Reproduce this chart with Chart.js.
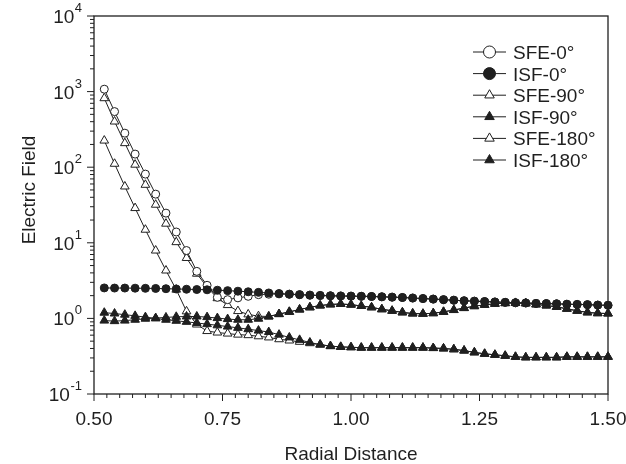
<!DOCTYPE html>
<html>
<head>
<meta charset="utf-8">
<script src="https://cdn.jsdelivr.net/npm/chart.js@4.4.1/dist/chart.umd.min.js"></script>
<style>
    html, body { margin: 0; padding: 0; background: #fff; }
    canvas { display: block; }
</style>
</head>
<body>
<canvas id="chart" width="626" height="464"></canvas>
<script>
// Data (x = radial distance, y = electric field, log scale)
const radialDistance = [
    0.52, 0.54, 0.56, 0.58, 0.60, 0.62, 0.64, 0.66, 0.68, 0.70,
    0.72, 0.74, 0.76, 0.78, 0.80, 0.82, 0.84, 0.86, 0.88, 0.90,
    0.92, 0.94, 0.96, 0.98, 1.00, 1.02, 1.04, 1.06, 1.08, 1.10,
    1.12, 1.14, 1.16, 1.18, 1.20, 1.22, 1.24, 1.26, 1.28, 1.30,
    1.32, 1.34, 1.36, 1.38, 1.40, 1.42, 1.44, 1.46, 1.48, 1.50
];

const sfe0 = [
    1076, 544, 282, 149, 81, 44, 24.7, 13.9, 7.9, 4.19,
    2.74, 1.90, 1.77, 1.87, 1.96, 2.06, 2.09, 2.11, 2.09, 2.06,
    2.03, 2.01, 1.99, 1.98, 1.97, 1.96, 1.95, 1.93, 1.91, 1.89,
    1.86, 1.83, 1.80, 1.77, 1.74, 1.71, 1.69, 1.67, 1.65, 1.63,
    1.61, 1.60, 1.58, 1.57, 1.56, 1.54, 1.53, 1.52, 1.50, 1.49
];

const isf0 = [
    2.53, 2.52, 2.52, 2.51, 2.50, 2.49, 2.47, 2.45, 2.43, 2.41,
    2.39, 2.36, 2.33, 2.29, 2.25, 2.21, 2.17, 2.13, 2.09, 2.06,
    2.03, 2.01, 1.99, 1.98, 1.97, 1.96, 1.95, 1.93, 1.91, 1.89,
    1.86, 1.83, 1.80, 1.77, 1.74, 1.71, 1.69, 1.67, 1.65, 1.63,
    1.61, 1.60, 1.58, 1.57, 1.56, 1.54, 1.53, 1.52, 1.50, 1.49
];

const sfe90 = [
    818, 402, 208, 108, 58.5, 31.9, 17.9, 10.2, 6.3, 3.9,
    2.6, 1.85, 1.50, 1.25, 1.13, 1.07, 1.06, 1.14, 1.22, 1.31,
    1.40, 1.48, 1.53, 1.55, 1.52, 1.46, 1.40, 1.32, 1.26, 1.20,
    1.16, 1.15, 1.17, 1.22, 1.29, 1.37, 1.45, 1.51, 1.56, 1.59,
    1.60, 1.58, 1.53, 1.48, 1.42, 1.34, 1.26, 1.20, 1.17, 1.16
];

const isf90 = [
    0.935, 0.92, 0.935, 0.96, 0.99, 1.01, 1.03, 1.05, 1.06, 1.06,
    1.04, 1.01, 0.98, 0.96, 0.96, 0.99, 1.06, 1.14, 1.22, 1.31,
    1.40, 1.48, 1.53, 1.55, 1.52, 1.46, 1.40, 1.32, 1.26, 1.20,
    1.16, 1.15, 1.17, 1.22, 1.29, 1.37, 1.45, 1.51, 1.56, 1.59,
    1.60, 1.58, 1.53, 1.48, 1.42, 1.34, 1.26, 1.20, 1.17, 1.16
];

const sfe180 = [
    225, 111, 55.6, 28.8, 14.9, 7.9, 4.3, 2.4, 1.24, 0.83,
    0.68, 0.65, 0.63, 0.61, 0.60, 0.58, 0.56, 0.53, 0.51, 0.49,
    0.47, 0.45, 0.43, 0.42, 0.415, 0.41, 0.41, 0.41, 0.41, 0.41,
    0.41, 0.41, 0.405, 0.40, 0.39, 0.375, 0.355, 0.34, 0.33, 0.32,
    0.31, 0.305, 0.305, 0.305, 0.305, 0.31, 0.31, 0.31, 0.31, 0.31
];

const isf180 = [
    1.19, 1.16, 1.12, 1.08, 1.04, 1.00, 0.96, 0.93, 0.90, 0.87,
    0.84, 0.81, 0.78, 0.75, 0.72, 0.69, 0.66, 0.61, 0.56, 0.52,
    0.48, 0.45, 0.43, 0.42, 0.415, 0.41, 0.41, 0.41, 0.41, 0.41,
    0.41, 0.41, 0.405, 0.40, 0.39, 0.375, 0.355, 0.34, 0.33, 0.32,
    0.31, 0.305, 0.305, 0.305, 0.305, 0.31, 0.31, 0.31, 0.31, 0.31
];

const seriesNames = ['SFE-0°', 'ISF-0°', 'SFE-90°', 'ISF-90°', 'SFE-180°', 'ISF-180°'];
const seriesValues = [sfe0, isf0, sfe90, isf90, sfe180, isf180];

const xTickValues = [0.50, 0.75, 1.00, 1.25, 1.50];
const xTickLabels = ['0.50', '0.75', '1.00', '1.25', '1.50'];
const yTickExponents = [-1, 0, 1, 2, 3, 4];

const xTitle = 'Radial Distance';
const yTitle = 'Electric Field';

// Styles
const INK = '#1f1f1f';
const FONT = '"Liberation Sans", Arial, Helvetica, sans-serif';
const FONT_SIZE = 19;

const markerStyles =
[
    { pointStyle: 'circle',   radius: 4, fill: '#ffffff' },
    { pointStyle: 'circle',   radius: 4, fill: INK },
    { pointStyle: 'triangle', radius: 5, fill: '#ffffff' },
    { pointStyle: 'triangle', radius: 5, fill: INK },
    { pointStyle: 'triangle', radius: 5, fill: '#ffffff' },
    { pointStyle: 'triangle', radius: 5, fill: INK }
];

function drawMarker(ctx, style, r, x, y, fill)
{
    ctx.beginPath();
    if (style === 'circle')
    {
        ctx.arc(x, y, r, 0, Math.PI * 2);
    }
    else
    {
        for (let k = 0; k < 3; k++)
        {
            const rad = k * 2 * Math.PI / 3;
            const px = x + Math.sin(rad) * r;
            const py = y - Math.cos(rad) * r;
            if (k === 0) ctx.moveTo(px, py); else ctx.lineTo(px, py);
        }
        ctx.closePath();
    }
    ctx.fillStyle = fill;
    ctx.fill();
    ctx.stroke();
}

// Frame, ticks, tick labels, titles and legend
const figurePlugin =
{
    id: 'figure',

    beforeDatasetsDraw(chart)
    {
        const { ctx, chartArea: a } = chart;
        ctx.save();
        ctx.strokeStyle = INK;
        ctx.lineWidth = 1.3;
        ctx.strokeRect(a.left, a.top, a.right - a.left, a.bottom - a.top);
        ctx.restore();
    },

    afterDraw(chart)
    {
        const { ctx, chartArea: a, scales } = chart;
        const xs = scales.x, ys = scales.y;

        ctx.save();
        ctx.strokeStyle = INK;
        ctx.lineWidth = 1;
        ctx.beginPath();

        // y ticks (outside, decades long)
        for (let e = yTickExponents[0]; e < yTickExponents[yTickExponents.length - 1]; e++)
        {
            for (let m = 1; m < 10; m++)
            {
                const py = ys.getPixelForValue(m * Math.pow(10, e));
                const len = m === 1 ? 7 : 4;
                ctx.moveTo(a.left, py);
                ctx.lineTo(a.left - len, py);
            }
        }
        ctx.moveTo(a.left, a.top);
        ctx.lineTo(a.left - 7, a.top);

        // x ticks: minor every 0.025
        for (let i = 0; i <= 40; i++)
        {
            const px = xs.getPixelForValue(0.5 + i * 0.025);
            const len = i % 10 === 0 ? 7 : 4;
            ctx.moveTo(px, a.bottom);
            ctx.lineTo(px, a.bottom + len);
        }
        ctx.stroke();

        ctx.fillStyle = INK;

        // x tick labels
        ctx.font = FONT_SIZE + 'px ' + FONT;
        ctx.textAlign = 'center';
        ctx.textBaseline = 'alphabetic';
        xTickValues.forEach((v, i) =>
        {
            ctx.fillText(xTickLabels[i], xs.getPixelForValue(v), a.bottom + 31);
        });

        // y tick labels: 10 with superscript exponent
        const labelRight = a.left - 12;
        yTickExponents.forEach(e =>
        {
            const py = ys.getPixelForValue(Math.pow(10, e));
            const sup = e < 0 ? '-' + Math.abs(e) : String(e);
            ctx.font = '13px ' + FONT;
            const supW = ctx.measureText(sup).width;
            ctx.textAlign = 'left';
            ctx.fillText(sup, labelRight - supW, py - 4);
            ctx.font = FONT_SIZE + 'px ' + FONT;
            ctx.textAlign = 'right';
            ctx.fillText('10', labelRight - supW - 0.5, py + 7);
        });

        // axis titles
        ctx.font = FONT_SIZE + 'px ' + FONT;
        ctx.textAlign = 'center';
        ctx.fillText(xTitle, (a.left + a.right) / 2, 460);

        ctx.save();
        ctx.translate(35, 190);
        ctx.rotate(-Math.PI / 2);
        ctx.fillText(yTitle, 0, 0);
        ctx.restore();

        // legend
        const rowTop = 52, rowStep = 21.6;
        seriesNames.forEach((name, i) =>
        {
            const ly = rowTop + i * rowStep;
            const st = markerStyles[i];
            ctx.strokeStyle = INK;
            ctx.lineWidth = 1;
            ctx.beginPath();
            ctx.moveTo(473, ly);
            ctx.lineTo(506, ly);
            ctx.stroke();
            drawMarker(ctx, st.pointStyle, st.pointStyle === 'circle' ? 6 : 5.5, 489.5, ly, st.fill);

            ctx.fillStyle = INK;
            ctx.font = FONT_SIZE + 'px ' + FONT;
            ctx.textAlign = 'left';
            ctx.fillText(name, 513, ly + 7);
        });

        ctx.restore();
    }
};

const datasets = seriesNames.map((name, i) =>
({
    label: name,
    data: radialDistance.map((x, j) => ({ x: x, y: seriesValues[i][j] })),
    borderColor: INK,
    borderWidth: 1,
    pointStyle: markerStyles[i].pointStyle,
    pointRadius: markerStyles[i].radius,
    pointHoverRadius: markerStyles[i].radius,
    pointBackgroundColor: markerStyles[i].fill,
    pointBorderColor: INK,
    pointBorderWidth: 1,
    tension: 0,
    fill: false,
    clip: false,
    // filled (ISF) curves drawn over the open (SFE) ones
    order: name.startsWith('ISF') ? 1 : 2
}));

new Chart(document.getElementById('chart'),
{
    type: 'line',
    data: { datasets: datasets },
    options:
    {
        responsive: false,
        animation: false,
        devicePixelRatio: 1,
        layout: { padding: { left: 0, top: 16, right: 18, bottom: 0 } },
        plugins:
        {
            legend: { display: false },
            tooltip: { enabled: false }
        },
        scales:
        {
            x:
            {
                type: 'linear',
                min: 0.5,
                max: 1.5,
                ticks: { display: false },
                grid: { display: false },
                border: { display: false },
                afterFit: (scale) => { scale.height = 70; }
            },
            y:
            {
                type: 'logarithmic',
                min: 0.1,
                max: 10000,
                ticks: { display: false },
                grid: { display: false },
                border: { display: false },
                afterFit: (scale) => { scale.width = 94; }
            }
        }
    },
    plugins: [figurePlugin]
});
</script>
</body>
</html>
